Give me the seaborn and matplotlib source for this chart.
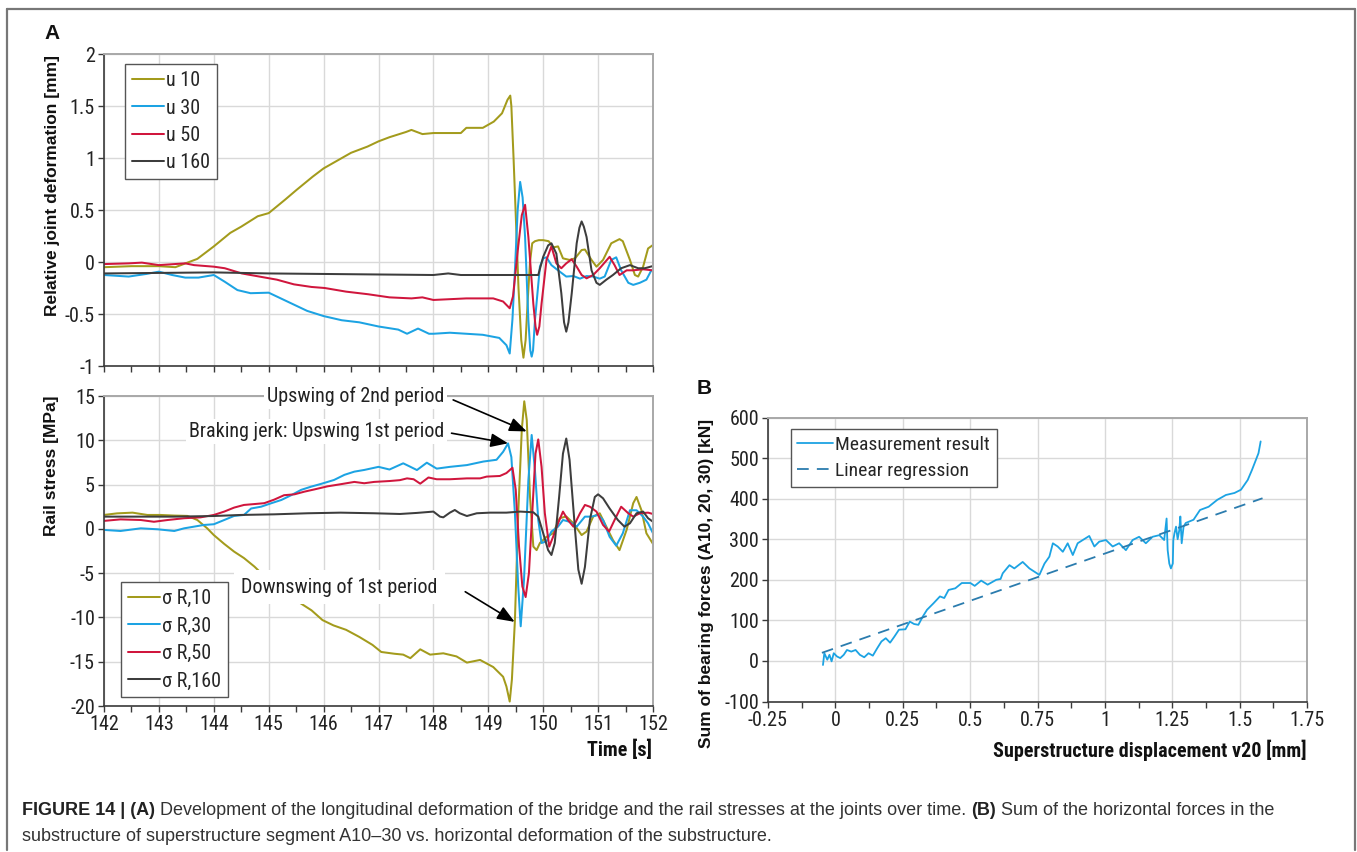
import numpy as np
import pandas as pd
import matplotlib
matplotlib.use("Agg")
import matplotlib.pyplot as plt
import seaborn as sns
from matplotlib.lines import Line2D
from matplotlib.ticker import FixedLocator, FixedFormatter, MultipleLocator

# ---------------- data ----------------
series_top = ["u 10", "u 30", "u 50", "u 160"]
series_bot = ["σ R,10", "σ R,30", "σ R,50", "σ R,160"]

t_u10 = [142.0, 142.5, 143.0, 143.3, 143.5, 143.7, 144.0, 144.3, 144.5, 144.8, 145.0, 145.3, 145.5, 145.8,
         146.0, 146.3, 146.5, 146.8, 147.0, 147.2, 147.5, 147.6, 147.8, 148.0, 148.5, 148.6, 148.9, 149.1,
         149.25, 149.35, 149.4, 149.42, 149.46, 149.5, 149.55, 149.6, 149.64, 149.68, 149.72, 149.76, 149.8,
         149.85, 149.92, 150.0, 150.1, 150.18, 150.27, 150.36, 150.48, 150.58, 150.7, 150.76, 150.88, 150.97,
         151.09, 151.24, 151.39, 151.45, 151.58, 151.67, 151.73, 151.82, 151.91, 151.99]
u10 = [-0.05, -0.04, -0.04, -0.05, -0.01, 0.03, 0.15, 0.28, 0.34, 0.44, 0.47, 0.60, 0.69, 0.82,
       0.90, 0.99, 1.05, 1.11, 1.16, 1.20, 1.25, 1.27, 1.23, 1.24, 1.24, 1.29, 1.29, 1.35,
       1.43, 1.56, 1.60, 1.50, 1.00, 0.45, -0.25, -0.75, -0.92, -0.75, -0.35, 0.00, 0.18,
       0.20, 0.21, 0.21, 0.20, 0.14, 0.15, 0.035, 0.02, 0.035, 0.115, 0.12, 0.02, -0.045,
       0.02, 0.18, 0.22, 0.20, 0.02, -0.125, -0.14, -0.045, 0.13, 0.16]

t_u30 = [142.0, 142.45, 142.77, 143.0, 143.24, 143.48, 143.72, 144.0, 144.2, 144.43, 144.67, 145.0, 145.22,
         145.46, 145.7, 146.0, 146.33, 146.65, 147.0, 147.36, 147.52, 147.72, 147.92, 148.0, 148.3, 148.9,
         149.2, 149.33, 149.39, 149.44, 149.485, 149.535, 149.58, 149.625, 149.67, 149.73, 149.765, 149.79,
         149.815, 149.85, 149.94, 150.0, 150.06, 150.15, 150.27, 150.42, 150.55, 150.67, 150.79, 150.91,
         151.03, 151.12, 151.24, 151.33, 151.42, 151.55, 151.64, 151.76, 151.88, 151.97]
u30 = [-0.125, -0.14, -0.115, -0.093, -0.125, -0.15, -0.15, -0.125, -0.19, -0.27, -0.30, -0.295, -0.35,
       -0.41, -0.47, -0.52, -0.56, -0.58, -0.62, -0.65, -0.69, -0.64, -0.69, -0.69, -0.68, -0.70,
       -0.73, -0.80, -0.88, -0.55, -0.08, 0.50, 0.77, 0.62, 0.24, -0.56, -0.85, -0.91,
       -0.85, -0.56, -0.045, 0.035, 0.045, -0.03, -0.08, -0.14, -0.135, -0.16, -0.135, -0.14,
       -0.16, -0.14, 0.02, 0.045, -0.08, -0.20, -0.22, -0.20, -0.17, -0.08]

t_u50 = [142.0, 142.45, 142.69, 143.0, 143.48, 143.64, 144.0, 144.2, 144.51, 144.83, 145.15, 145.46, 145.78,
         146.02, 146.41, 146.81, 147.2, 147.6, 147.8, 148.0, 148.6, 149.09, 149.27, 149.39, 149.45, 149.545,
         149.61, 149.67, 149.73, 149.82, 149.86, 149.89, 149.93, 149.97, 150.06, 150.15, 150.24, 150.33,
         150.42, 150.52, 150.61, 150.7, 150.79, 150.91, 151.03, 151.21, 151.3, 151.39, 151.52, 151.64,
         151.82, 151.99]
u50 = [-0.02, -0.013, -0.006, -0.03, -0.013, -0.03, -0.045, -0.06, -0.11, -0.14, -0.17, -0.215, -0.24,
       -0.25, -0.285, -0.31, -0.34, -0.35, -0.34, -0.365, -0.35, -0.35, -0.38, -0.445, -0.33, 0.15,
       0.45, 0.55, 0.24, -0.40, -0.62, -0.70, -0.62, -0.40, 0.02, 0.15, -0.013, -0.06,
       -0.013, 0.026, -0.045, -0.125, -0.157, -0.125, -0.06, 0.05, -0.03, -0.125, -0.08, -0.08,
       -0.07, -0.08]

t_u160 = [142.0, 143.0, 144.0, 145.0, 146.0, 147.0, 148.0, 148.27, 148.5, 149.0, 149.5, 149.91, 150.0,
          150.09, 150.15, 150.24, 150.33, 150.38, 150.42, 150.46, 150.52, 150.61, 150.66, 150.7, 150.74,
          150.79, 150.88, 150.97, 151.03, 151.15, 151.27, 151.42, 151.58, 151.73, 151.85, 151.99]
u160 = [-0.11, -0.105, -0.10, -0.11, -0.115, -0.12, -0.125, -0.11, -0.125, -0.125, -0.125, -0.125, 0.05,
        0.16, 0.18, 0.08, -0.30, -0.58, -0.67, -0.58, -0.30, 0.18, 0.33, 0.39, 0.34,
        0.24, -0.08, -0.20, -0.22, -0.17, -0.125, -0.06, -0.03, -0.06, -0.06, -0.04]

t_s10 = [142.0, 142.24, 142.52, 142.79, 143.03, 143.28, 143.52, 143.70, 143.88, 144.0, 144.19, 144.37, 144.55,
         144.74, 144.83, 145.2, 145.58, 145.78, 145.98, 146.18, 146.41, 146.65, 146.89, 147.05, 147.29, 147.45,
         147.58, 147.76, 147.94, 148.18, 148.42, 148.61, 148.85, 149.09, 149.27, 149.33, 149.39, 149.43,
         149.485, 149.545, 149.61, 149.655, 149.70, 149.76, 149.82, 149.88, 149.94, 150.06, 150.18, 150.30,
         150.42, 150.55, 150.70, 150.79, 150.91, 151.03, 151.15, 151.27, 151.39, 151.52, 151.64, 151.70,
         151.79, 151.88, 152.0]
s10 = [1.57, 1.75, 1.83, 1.57, 1.57, 1.50, 1.46, 1.00, 0.06, -0.70, -1.70, -2.57, -3.30,
       -4.26, -4.80, -6.6, -8.40, -9.20, -10.30, -10.90, -11.40, -12.20, -13.10, -13.90, -14.10, -14.2,
       -14.60, -13.60, -14.20, -14.05, -14.40, -15.10, -14.80, -15.60, -16.70, -17.8, -19.5, -17.0,
       -10.30, 1.75, 11.20, 14.40, 12.30, 3.60, -2.00, -2.40, -1.60, -0.90, -0.50, 1.20,
       1.40, 0.63, -0.70, -0.30, 1.38, 1.76, 0.25, -1.26, -2.40, -0.10, 2.90, 3.60,
       2.10, -0.50, -1.70]

t_s30 = [142.0, 142.3, 142.67, 142.98, 143.28, 143.46, 143.64, 143.82, 144.0, 144.19, 144.37, 144.55, 144.68,
         144.86, 145.05, 145.23, 145.41, 145.59, 145.77, 145.95, 146.19, 146.38, 146.56, 146.74, 147.0, 147.2,
         147.45, 147.55, 147.7, 147.88, 148.06, 148.3, 148.61, 148.91, 149.15, 149.27, 149.36, 149.42,
         149.485, 149.545, 149.59, 149.65, 149.73, 149.79, 149.85, 149.91, 149.97, 150.06, 150.15, 150.27,
         150.36, 150.48, 150.61, 150.76, 150.88, 151.0, 151.09, 151.21, 151.33, 151.45, 151.58, 151.7,
         151.82, 151.91, 152.0]
s30 = [-0.12, -0.24, 0.06, -0.05, -0.24, 0.06, 0.25, 0.44, 0.52, 1.0, 1.46, 1.57, 2.3,
       2.5, 2.9, 3.26, 3.8, 4.4, 4.76, 5.07, 5.52, 6.1, 6.46, 6.65, 7.0, 6.7,
       7.4, 7.1, 6.64, 7.47, 6.8, 7.0, 7.2, 7.6, 7.8, 8.7, 9.65, 8.1,
       1.76, -6.5, -11.0, -5.8, 5.5, 10.6, 6.6, 1.0, -1.6, -1.4, -0.3, 0.25,
       1.0, 0.8, 0.25, 1.38, 1.38, 1.57, 1.0, -0.9, -1.9, -0.5, 2.1, 2.1,
       1.38, 0.63, -0.5]

t_s50 = [142.0, 142.3, 142.67, 142.91, 143.16, 143.46, 143.76, 144.0, 144.19, 144.37, 144.55, 144.74, 144.92,
         145.1, 145.28, 145.47, 145.65, 145.83, 146.07, 146.32, 146.56, 146.74, 146.92, 147.2, 147.39, 147.52,
         147.64, 147.76, 147.91, 148.06, 148.3, 148.61, 148.85, 148.97, 149.21, 149.33, 149.44, 149.5,
         149.56, 149.62, 149.68, 149.74, 149.8, 149.86, 149.91, 149.97, 150.03, 150.11, 150.18, 150.27,
         150.36, 150.45, 150.55, 150.67, 150.76, 150.85, 150.97, 151.09, 151.2, 151.3, 151.42, 151.55,
         151.64, 151.76, 151.91, 152.0]
s50 = [0.9, 1.07, 1.0, 0.8, 1.0, 1.2, 1.3, 1.57, 1.95, 2.4, 2.7, 2.8, 2.9,
       3.3, 3.8, 3.9, 4.2, 4.45, 4.8, 5.05, 5.3, 5.15, 5.3, 5.4, 5.5, 5.7,
       5.6, 5.1, 5.8, 5.6, 5.6, 5.7, 5.7, 5.9, 5.97, 6.3, 6.9, 4.4,
       -2.0, -6.5, -7.7, -5.0, 1.76, 8.5, 10.1, 7.0, 1.76, -2.0, -0.9, 0.63,
       1.95, 1.0, 0.25, 1.76, 2.7, 2.5, 1.95, 0.44, -0.3, 1.0, 2.5, 1.76,
       1.38, 1.76, 1.83, 1.68]

t_s160 = [142.0, 142.67, 143.28, 144.0, 144.49, 145.1, 145.71, 146.31, 146.92, 147.39, 147.7, 148.0, 148.12,
          148.18, 148.3, 148.39, 148.48, 148.61, 148.79, 149.03, 149.33, 149.58, 149.82, 149.91, 150.0, 150.09,
          150.15, 150.21, 150.29, 150.36, 150.42, 150.48, 150.58, 150.64, 150.7, 150.76, 150.85, 150.94,
          151.0, 151.09, 151.21, 151.36, 151.48, 151.58, 151.7, 151.82, 151.91, 152.0]
s160 = [1.38, 1.38, 1.38, 1.45, 1.57, 1.64, 1.76, 1.83, 1.76, 1.68, 1.8, 1.95, 1.38,
        1.3, 1.83, 2.13, 1.76, 1.45, 1.76, 1.83, 1.83, 1.95, 1.87, 1.38, -0.5, -2.4,
        -2.95, -1.6, 3.6, 8.5, 10.2, 7.8, -0.1, -4.6, -6.2, -4.3, 1.0, 3.6,
        3.9, 3.45, 2.3, 1.0, 0.25, 0.63, 1.76, 1.95, 1.2, 0.8]

disp_v20 = [-0.046, -0.041, -0.030, -0.022, -0.014, -0.006, 0.006, 0.018, 0.031, 0.043,
            0.059, 0.075, 0.091, 0.107, 0.123, 0.139, 0.155, 0.171, 0.187, 0.203,
            0.219, 0.236, 0.260, 0.276, 0.292, 0.308, 0.324, 0.340, 0.364, 0.388,
            0.404, 0.420, 0.445, 0.469, 0.501, 0.517, 0.541, 0.565, 0.597, 0.613,
            0.621, 0.646, 0.664, 0.695, 0.720, 0.757, 0.776, 0.794, 0.807, 0.825,
            0.844, 0.862, 0.881, 0.899, 0.918, 0.942, 0.961, 0.979, 1.004, 1.029,
            1.053, 1.078, 1.103, 1.127, 1.152, 1.177, 1.202, 1.220, 1.229, 1.233,
            1.239, 1.245, 1.252, 1.254, 1.258, 1.264, 1.270, 1.276, 1.280, 1.285,
            1.292, 1.300, 1.329, 1.353, 1.385, 1.417, 1.449, 1.481, 1.505, 1.530,
            1.546, 1.570, 1.578]
bearing_force = [-10, 19, 3, 15, -1, 19, 11, 7, 15, 27,
                 23, 27, 15, 9, 19, 13, 31, 48, 56, 45,
                 60, 77, 78, 97, 91, 89, 109, 126, 142, 159,
                 155, 175, 179, 192, 192, 185, 198, 188, 200, 202,
                 216, 236, 228, 244, 228, 212, 240, 257, 290, 282,
                 269, 290, 261, 290, 298, 308, 282, 294, 298, 282,
                 290, 273, 298, 306, 290, 306, 310, 298, 351, 273,
                 240, 228, 240, 298, 314, 331, 300, 322, 356, 290,
                 331, 340, 348, 372, 380, 397, 409, 414, 422, 446,
                 471, 512, 541]
reg_x = [-0.05, 1.585]
reg_y = [20, 401]

top_yticks = [-1, -0.5, 0, 0.5, 1, 1.5, 2]
top_ylabels = ["-1", "-0.5", "0", "0.5", "1", "1.5", "2"]
bot_yticks = [-20, -15, -10, -5, 0, 5, 10, 15]
bot_ylabels = ["-20", "-15", "-10", "-5", "0", "5", "10", "15"]
time_ticks = [142, 143, 144, 145, 146, 147, 148, 149, 150, 151, 152]
time_labels = [str(v) for v in time_ticks]
b_xticks = [-0.25, 0, 0.25, 0.5, 0.75, 1, 1.25, 1.5, 1.75]
b_xlabels = ["-0.25", "0", "0.25", "0.5", "0.75", "1", "1.25", "1.5", "1.75"]
b_yticks = [-100, 0, 100, 200, 300, 400, 500, 600]
b_ylabels = ["-100", "0", "100", "200", "300", "400", "500", "600"]

# ---------------- style ----------------
sns.set_theme(style="white")
NARROW = ["Roboto Condensed", "DejaVu Sans"]
REGULAR = ["Liberation Sans", "DejaVu Sans"]
plt.rcParams["font.family"] = NARROW
plt.rcParams["axes.unicode_minus"] = False

C_OLIVE = "#a39b1c"
C_BLUE = "#1ca3e3"
C_RED = "#d0163d"
C_GRAY = "#3d3d3d"
C_REG = "#2b7cae"
pal_top = dict(zip(series_top, [C_OLIVE, C_BLUE, C_RED, C_GRAY]))
pal_bot = dict(zip(series_bot, [C_OLIVE, C_BLUE, C_RED, C_GRAY]))

W, H = 1357, 852
fig = plt.figure(figsize=(W / 100, H / 100), dpi=100)


def rect(l, t, r, b):
    return [l / W, 1 - b / H, (r - l) / W, (b - t) / H]


ax1 = fig.add_axes(rect(104, 54, 653, 366))
ax2 = fig.add_axes(rect(104, 396, 653, 706))
ax3 = fig.add_axes(rect(768, 417.5, 1307, 701.5))

df_top = pd.concat([pd.DataFrame({"t": t, "v": v, "s": s}) for t, v, s in
                    zip([t_u10, t_u30, t_u50, t_u160], [u10, u30, u50, u160], series_top)])
df_bot = pd.concat([pd.DataFrame({"t": t, "v": v, "s": s}) for t, v, s in
                    zip([t_s10, t_s30, t_s50, t_s160], [s10, s30, s50, s160], series_bot)])
df_b = pd.DataFrame({"x": disp_v20, "y": bearing_force})
df_reg = pd.DataFrame({"x": reg_x, "y": reg_y})

LW = 1.45
sns.lineplot(data=df_top, x="t", y="v", hue="s", palette=pal_top, hue_order=series_top,
             estimator=None, sort=False, lw=LW, ax=ax1, legend=False)
sns.lineplot(data=df_bot, x="t", y="v", hue="s", palette=pal_bot, hue_order=series_bot,
             estimator=None, sort=False, lw=LW, ax=ax2, legend=False)
sns.lineplot(data=df_b, x="x", y="y", estimator=None, sort=False, color=C_BLUE, lw=1.3, ax=ax3)
sns.lineplot(data=df_reg, x="x", y="y", estimator=None, sort=False, color=C_REG, lw=1.3,
             dashes=False, ax=ax3)
ax3.lines[-1].set_dashes((6.5, 4.5))

TICK_FS = 14.5


def style_axes(ax, xlim, ylim, xticks, xlabels, yticks, ylabels, xminor, show_xlabels=True):
    ax.set_xlim(*xlim)
    ax.set_ylim(*ylim)
    ax.xaxis.set_major_locator(FixedLocator(xticks))
    ax.xaxis.set_major_formatter(FixedFormatter(xlabels))
    ax.xaxis.set_minor_locator(MultipleLocator(xminor))
    ax.yaxis.set_major_locator(FixedLocator(yticks))
    ax.yaxis.set_major_formatter(FixedFormatter(ylabels))
    ax.grid(True, which="major", color="#d9d9d9", lw=1.0)
    ax.set_axisbelow(True)
    for side in ["left", "bottom"]:
        ax.spines[side].set_color("#3a3a3a")
        ax.spines[side].set_linewidth(1.2)
    for side in ["top", "right"]:
        ax.spines[side].set_color("#a8a8a8")
        ax.spines[side].set_linewidth(1.4)
    ax.tick_params(which="both", direction="out", length=4, width=1.0, color="#3a3a3a",
                   bottom=True, left=True, top=False, right=False)
    ax.tick_params(axis="both", which="major", labelsize=TICK_FS, labelcolor="#222222", pad=2.5)
    ax.tick_params(axis="y", which="minor", left=False)
    ax.tick_params(axis="x", labelbottom=show_xlabels)
    ax.set_xlabel("")
    ax.set_ylabel("")


style_axes(ax1, (142, 152), (-1, 2), time_ticks, time_labels, top_yticks, top_ylabels, 0.5, False)
style_axes(ax2, (142, 152), (-20, 15), time_ticks, time_labels, bot_yticks, bot_ylabels, 0.5, True)
style_axes(ax3, (-0.25, 1.75), (-100, 600), b_xticks, b_xlabels, b_yticks, b_ylabels, 0.125, True)

leg_kw = dict(loc="upper left", frameon=True, fancybox=False, framealpha=1, edgecolor="#555555",
              handletextpad=0.1, borderpad=0.35, labelspacing=0.42, borderaxespad=0.0)
h_top = [Line2D([], [], color=pal_top[s], lw=LW) for s in series_top]
lg1 = ax1.legend(h_top, series_top, bbox_to_anchor=((124.5 - 104) / 549, (366 - 64) / 312),
                 handlelength=1.6, fontsize=14.5, **leg_kw)
lg1.get_frame().set_linewidth(1.0)
h_bot = [Line2D([], [], color=pal_bot[s], lw=LW) for s in series_bot]
lg2 = ax2.legend(h_bot, series_bot, bbox_to_anchor=((120.5 - 104) / 549, (706 - 582) / 310),
                 handlelength=1.6, fontsize=14.5, **leg_kw)
lg2.get_frame().set_linewidth(1.0)
h_b = [Line2D([], [], color=C_BLUE, lw=1.3), Line2D([], [], color=C_REG, lw=1.3, dashes=(6.5, 4.5))]
lg3 = ax3.legend(h_b, ["Measurement result", "Linear regression"],
                 bbox_to_anchor=((790.6 - 768) / 539, (701.5 - 429.3) / 284),
                 handlelength=1.85, fontsize=14.0, **leg_kw)
lg3.get_frame().set_linewidth(1.0)

# annotations in rail stress panel
ANN_FS = 14.5
box = dict(boxstyle="square,pad=0.15", fc="white", ec="none")
ax2.text(148.2, 14.93, "Upswing of 2nd period", ha="right", va="center", fontsize=ANN_FS,
         color="#222222", bbox=box, zorder=6)
ax2.text(148.2, 10.94, "Braking jerk: Upswing 1st period", ha="right", va="center", fontsize=ANN_FS,
         color="#222222", bbox=box, zorder=6)
ax2.text(148.08, -6.56, "Downswing of 1st period", ha="right", va="center", fontsize=ANN_FS,
         color="#222222", bbox=dict(boxstyle="square,pad=0.35", fc="white", ec="none"), zorder=6)
arrow = dict(arrowstyle="-|>,head_length=0.75,head_width=0.3", color="black", lw=1.2,
             shrinkA=0, shrinkB=0, mutation_scale=14)
ax2.annotate("", xy=(149.70, 11.0), xytext=(148.36, 14.56), arrowprops=arrow, zorder=7)
ax2.annotate("", xy=(149.36, 9.66), xytext=(148.33, 10.8), arrowprops=arrow, zorder=7)
ax2.annotate("", xy=(149.48, -10.5), xytext=(148.58, -7.1), arrowprops=arrow, zorder=7)


def ftext(x, y, s, **kw):
    return fig.text(x / W, 1 - y / H, s, **kw)


# axis labels
ftext(53, 185, "Relative joint deformation [mm]", rotation=90, ha="center", va="center",
      fontsize=12.5, fontweight="bold", family=REGULAR, color="#111111")
ftext(52, 466, "Rail stress [MPa]", rotation=90, ha="center", va="center",
      fontsize=12.5, fontweight="bold", family=REGULAR, color="#111111")
ftext(706, 583, "Sum of bearing forces (A10, 20, 30) [kN]", rotation=90, ha="center", va="center",
      fontsize=12.5, fontweight="bold", family=REGULAR, color="#111111")
ftext(652, 750, "Time [s]", ha="right", va="center", fontsize=14.5, fontweight="bold", color="#111111")
ftext(1307, 750, "Superstructure displacement v20 [mm]", ha="right", va="center", fontsize=14.5,
      fontweight="bold", color="#111111")
ftext(52, 33.5, "A", ha="center", va="center", fontsize=15, fontweight="bold", family=REGULAR,
      color="#111111")
ftext(704.5, 389, "B", ha="center", va="center", fontsize=15, fontweight="bold", family=REGULAR,
      color="#111111")

# frame
for xs, ys in [([7, 7], [850, 9]), ([7, 1355], [9, 9]), ([1355, 1355], [9, 850])]:
    fig.add_artist(Line2D([x / W for x in xs], [1 - y / H for y in ys], transform=fig.transFigure,
                          color="#777777", lw=1.6))

# caption
renderer = fig.canvas.get_renderer()
CAP_FS = 13.0


def chain(pieces, x_px, y_base):
    x = x_px
    for txt, wt, col in pieces:
        t = fig.text(x / W, 1 - y_base / H, txt, fontsize=CAP_FS, fontweight=wt, color=col,
                     ha="left", va="baseline", family=REGULAR)
        bb = t.get_window_extent(renderer)
        x = bb.x1


chain([("FIGURE 14 | (A)", "bold", "#222222"),
       (" Development of the longitudinal deformation of the bridge and the rail stresses at the joints over time. ",
        "normal", "#333333"),
       ("(B)", "bold", "#222222"),
       (" Sum of the horizontal forces in the", "normal", "#333333")], 22, 815)
chain([("substructure of superstructure segment A10\u201330 vs. horizontal deformation of the substructure.",
        "normal", "#333333")], 22, 841)

fig.savefig("out.png", dpi=100)
